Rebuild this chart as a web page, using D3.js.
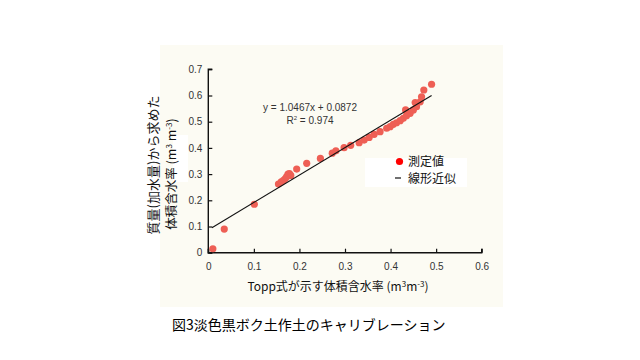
<!DOCTYPE html>
<html><head><meta charset="utf-8">
<script src="https://cdn.jsdelivr.net/npm/d3@7"></script>
<style>body{margin:0;background:#fff}svg{display:block}</style>
</head><body><svg id="c" width="640" height="360"></svg>
<script>
const xTicks = [0, 0.1, 0.2, 0.3, 0.4, 0.5, 0.6];
const yTicks = [0, 0.1, 0.2, 0.3, 0.4, 0.5, 0.6, 0.7];
const toppX = [0.010, 0.035, 0.101, 0.154, 0.160, 0.165, 0.169, 0.172, 0.175, 0.178, 0.181, 0.194, 0.216, 0.246, 0.272, 0.280, 0.298, 0.3125, 0.331, 0.342, 0.353, 0.364, 0.377, 0.3915, 0.399, 0.406, 0.413, 0.421, 0.428, 0.433, 0.435, 0.443, 0.450, 0.454, 0.457, 0.465, 0.468, 0.473, 0.490];
const gravY = [0.015, 0.090, 0.185, 0.262, 0.270, 0.276, 0.283, 0.290, 0.300, 0.302, 0.295, 0.319, 0.341, 0.360, 0.380, 0.389, 0.401, 0.410, 0.420, 0.430, 0.440, 0.452, 0.462, 0.475, 0.481, 0.490, 0.496, 0.504, 0.513, 0.545, 0.523, 0.532, 0.545, 0.573, 0.557, 0.576, 0.595, 0.621, 0.643];
const fitSlope = 1.0467, fitIntercept = 0.0872;
const fitRange = [0.008, 0.49];
const eqLabel = "y = 1.0467x + 0.0872";
const r2Label = "0.974";
const legendLabels = ["測定値", "線形近似"];
const xTitle = "Topp式が示す体積含水率";
const yTitle1 = "質量(加水量)から求めた";
const yTitle2 = "体積含水率";
const caption = "図3淡色黒ボク土作土のキャリブレーション";

const svg = d3.select("#c");
const font = "'Liberation Sans', Arial, sans-serif";
const jfont = "'Noto Sans CJK JP', sans-serif";

// panel background
svg.append("rect").attr("x",160).attr("y",45).attr("width",343).attr("height",262).attr("fill","#fcfbf3");
svg.append("rect").attr("x",173).attr("y",135).attr("width",15).attr("height",47).attr("fill","#fff");

const x = d3.scaleLinear().domain([0,0.6]).range([208.3,481.7]);
const y = d3.scaleLinear().domain([0,0.7]).range([252.7,69.3]);

const xAxis = d3.axisBottom(x).tickValues(xTicks).tickSize(-4).tickPadding(10)
  .tickFormat(d => d===0 ? "0" : d3.format(".1f")(d));
const yAxis = d3.axisLeft(y).tickValues(yTicks).tickSize(-4).tickPadding(6)
  .tickFormat(d => d===0 ? "0" : d3.format(".1f")(d));

const gx = svg.append("g").attr("transform",`translate(0,${y(0)})`).call(xAxis);
const gy = svg.append("g").attr("transform",`translate(${x(0)},0)`).call(yAxis);
[gx,gy].forEach(g=>{
  g.select(".domain").attr("stroke","#111").attr("stroke-width",1.4);
  g.selectAll(".tick line").attr("stroke","#111").attr("stroke-width",1.2);
  g.selectAll(".tick text").attr("font-family",font).attr("font-size",10).attr("fill","#333");
});
gx.select(".domain").attr("d",`M${x(0)},-4V0H${x(0.6)}V-4`);
gy.select(".domain").attr("d",`M4,${y(0.7)}H0V${y(0)}H4`);

// points
svg.append("g").selectAll("circle").data(toppX.map((v,i)=>[v,gravY[i]])).join("circle")
  .attr("cx",d=>x(d[0])).attr("cy",d=>y(d[1])).attr("r",3.6).attr("fill","#ee5f55");

// fit line
svg.append("line")
  .attr("x1",x(fitRange[0])).attr("y1",y(fitSlope*fitRange[0]+fitIntercept))
  .attr("x2",x(fitRange[1])).attr("y2",y(fitSlope*fitRange[1]+fitIntercept))
  .attr("stroke","#111").attr("stroke-width",1.1);

// equation
svg.append("text").attr("x",310).attr("y",111).attr("text-anchor","middle")
  .attr("font-family",font).attr("font-size",10).attr("fill","#333").text(eqLabel);
const r2 = svg.append("text").attr("x",310).attr("y",124).attr("text-anchor","middle")
  .attr("font-family",font).attr("font-size",10).attr("fill","#333");
r2.append("tspan").text("R");
r2.append("tspan").attr("dy",-4).attr("font-size",6).text("2");
r2.append("tspan").attr("dy",4).text(" = " + r2Label);

// legend
svg.append("rect").attr("x",365).attr("y",158).attr("width",102).attr("height",29).attr("fill","#fff");
svg.append("circle").attr("cx",399.5).attr("cy",161.5).attr("r",3.6).attr("fill","#ff0000");
svg.append("line").attr("x1",395).attr("x2",401).attr("y1",178).attr("y2",178).attr("stroke","#111").attr("stroke-width",1.2);
legendLabels.forEach((t,i)=>{
  svg.append("text").attr("x",408).attr("y",165.5+i*17).attr("font-family",jfont)
    .attr("font-size",12).attr("fill","#111").text(t);
});

// x title
const xt = svg.append("text").attr("x",338).attr("y",291).attr("text-anchor","middle")
  .attr("font-family",jfont).attr("font-size",12).attr("fill","#111");
xt.append("tspan").text(xTitle + " (m");
xt.append("tspan").attr("dy",-4).attr("font-size",8).text("3");
xt.append("tspan").attr("dy",4).text("m");
xt.append("tspan").attr("dy",-4).attr("font-size",8).text("-3");
xt.append("tspan").attr("dy",4).text(")");

// y title
svg.append("text").attr("transform","translate(158,165) rotate(-90)").attr("text-anchor","middle")
  .attr("font-family",jfont).attr("font-size",13).attr("fill","#111").text(yTitle1);
const yt2 = svg.append("text").attr("transform","translate(176,174) rotate(-90)").attr("text-anchor","middle")
  .attr("font-family",jfont).attr("font-size",12.5).attr("fill","#111");
yt2.append("tspan").text(yTitle2 + " (m");
yt2.append("tspan").attr("dy",-4).attr("font-size",8).text("3");
yt2.append("tspan").attr("dy",4).text(" m");
yt2.append("tspan").attr("dy",-4).attr("font-size",8).text("-3");
yt2.append("tspan").attr("dy",4).text(")");

// caption
svg.append("text").attr("x",172).attr("y",330).attr("font-family",jfont)
  .attr("font-size",14).attr("fill","#000").text(caption);
</script></body></html>
